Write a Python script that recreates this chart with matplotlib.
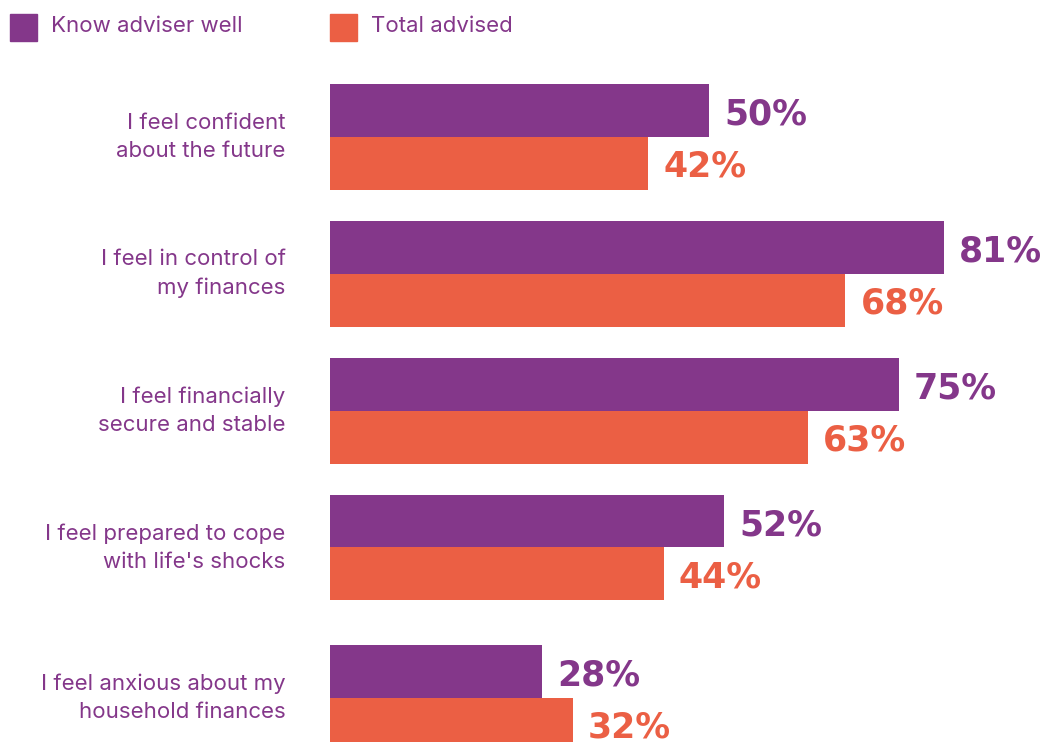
import numpy as np
import matplotlib
matplotlib.use('Agg')
import matplotlib.pyplot as plt

# data
categories = [
    "I feel confident\nabout the future",
    "I feel in control of\nmy finances",
    "I feel financially\nsecure and stable",
    "I feel prepared to cope\nwith life's shocks",
    "I feel anxious about my\nhousehold finances",
]
know_well = [50, 81, 75, 52, 28]
total_advised = [42, 68, 63, 44, 32]
series_names = ["Know adviser well", "Total advised"]

purple = "#84378A"
orange = "#EB5F44"

W, H = 1048, 742
fig = plt.figure(figsize=(W / 100, H / 100), dpi=100)
# axes: x=0 at 330px, 7.58 px per percent; y in group units
x0 = 330
ax = fig.add_axes([x0 / W, 0, 1 - x0 / W, 1])
ax.set_xlim(0, (W - x0) / 7.58)

# group centres (last group has slightly more room)
pos = np.arange(len(categories), dtype=float)
pos[-1] += 0.1
bh = 0.387
ax.set_ylim(4.10 + 44 / 137, -137 / 137)

ax.barh(pos - bh / 2, know_well, height=bh, color=purple, linewidth=0)
ax.barh(pos + bh / 2, total_advised, height=bh, color=orange, linewidth=0)

vfont = dict(family="DejaVu Sans", fontweight="bold", fontsize=25)
lfont = dict(family="Inter", fontsize=16)
for i, p in enumerate(pos):
    a, b = know_well[i], total_advised[i]
    ax.annotate("{}%".format(a), (a, p - bh / 2), xytext=(11, -3), textcoords="offset points",
                va="center", ha="left", color=purple, **vfont)
    ax.annotate("{}%".format(b), (b, p + bh / 2), xytext=(11, -2.2), textcoords="offset points",
                va="center", ha="left", color=orange, **vfont)
    ax.annotate(categories[i], (0, p), xytext=(-32, 0), textcoords="offset points",
                ha="right", va="center", color=purple, linespacing=1.5, **lfont)

ax.axis("off")

# legend
for i, (name, col) in enumerate(zip(series_names, [purple, orange])):
    lx = [10, 330][i]
    fig.patches.append(plt.Rectangle((lx / W, 1 - 41 / H), 27 / W, 27 / H,
                                     transform=fig.transFigure, color=col, figure=fig))
    fig.text((lx + 41) / W, 1 - 26 / H, name, color=purple, va="center", ha="left", **lfont)

plt.savefig("out.png", dpi=100)
